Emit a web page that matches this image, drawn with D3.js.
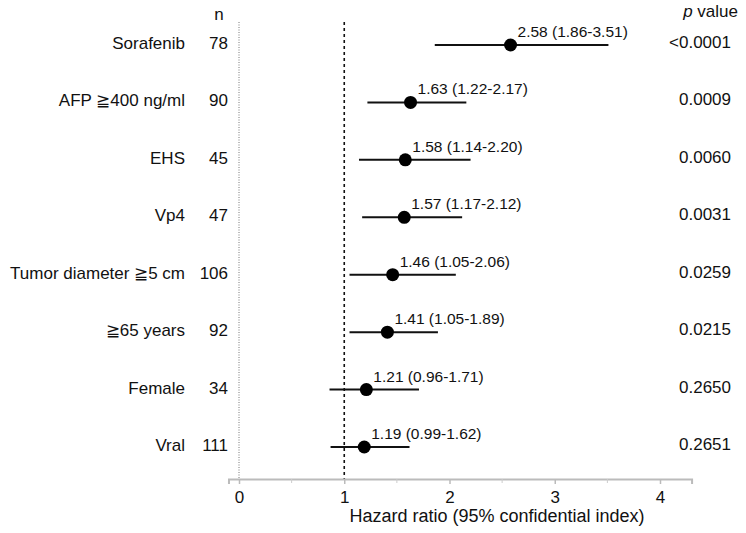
<!DOCTYPE html>
<html><head><meta charset="utf-8">
<script src="https://cdn.jsdelivr.net/npm/d3@7"></script>
<style>body{margin:0;background:#fff}svg{display:block;font-family:"Liberation Sans",Arial,sans-serif}</style>
</head><body>
<script>
const categories = ["Sorafenib","AFP \u2267400 ng/ml","EHS","Vp4","Tumor diameter \u22675 cm","\u226765 years","Female","Vral"];
const nValues = [78,90,45,47,106,92,34,111];
const hazardRatio = [2.58,1.63,1.58,1.57,1.46,1.41,1.21,1.19];
const ciLow = [1.86,1.22,1.14,1.17,1.05,1.05,0.86,0.87];   // as drawn
const ciHigh = [3.51,2.16,2.20,2.12,2.06,1.89,1.71,1.62];
const ciText = ["2.58 (1.86-3.51)","1.63 (1.22-2.17)","1.58 (1.14-2.20)","1.57 (1.17-2.12)","1.46 (1.05-2.06)","1.41 (1.05-1.89)","1.21 (0.96-1.71)","1.19 (0.99-1.62)"];
const pValues = ["<0.0001","0.0009","0.0060","0.0031","0.0259","0.0215","0.2650","0.2651"];
const majorTicks = [0,1,2,3,4];
const minorTicks = [0.5,1.5,2.5,3.5];

const W = 746, H = 533;
const svg = d3.select("body").append("svg").attr("width",W).attr("height",H);

const x = d3.scaleLinear().domain([0,4]).range([239,660]);
const xAxisScale = d3.scaleLinear().domain([-0.1,4.3]).range([x(-0.1),x(4.3)]);
const y = d3.scalePoint().domain(d3.range(categories.length)).range([45,447]);
const axisY = 479, topY = 22;

// reference lines
svg.append("line").attr("x1",x(0)).attr("x2",x(0)).attr("y1",topY).attr("y2",axisY)
  .attr("stroke","#777").attr("stroke-width",1).attr("stroke-dasharray","1,1.5");
svg.append("line").attr("x1",x(1)).attr("x2",x(1)).attr("y1",topY).attr("y2",axisY)
  .attr("stroke","#111").attr("stroke-width",1.6).attr("stroke-dasharray","3,3");

// axis
const gAxis = svg.append("g").attr("transform",`translate(0,${axisY})`);
gAxis.call(d3.axisBottom(xAxisScale).tickValues(majorTicks).tickFormat(d3.format("d")).tickSize(5).tickPadding(8));
gAxis.select(".domain").attr("stroke","#bbb").attr("stroke-width",2);
gAxis.selectAll(".tick line").attr("stroke","#bbb").attr("stroke-width",1.5);
gAxis.selectAll(".tick text").attr("font-size",17).attr("fill","#111")
  .attr("font-family","Liberation Sans, Arial, sans-serif").attr("dy",null).attr("y",24);
gAxis.selectAll(".minor").data(minorTicks).enter().append("line")
  .attr("x1",d=>x(d)).attr("x2",d=>x(d)).attr("y1",0).attr("y2",4)
  .attr("stroke","#ccc").attr("stroke-width",1);

svg.append("text").attr("x",497).attr("y",522).attr("text-anchor","middle")
  .attr("font-size",18).attr("fill","#111").text("Hazard ratio (95% confidential index)");

// headers
svg.append("text").attr("x",219).attr("y",20).attr("text-anchor","middle").attr("font-size",17).attr("fill","#111").text("n");
const ph = svg.append("text").attr("x",738).attr("y",17).attr("text-anchor","end").attr("font-size",17).attr("fill","#111");
ph.append("tspan").attr("font-style","italic").text("p");
ph.append("tspan").text(" value");

const rows = svg.append("g").selectAll("g").data(categories).enter().append("g");
rows.append("text").attr("x",185).attr("y",(d,i)=>y(i)+4).attr("text-anchor","end")
  .attr("font-size",17).attr("fill","#111").text(d=>d);
rows.append("text").attr("x",228).attr("y",(d,i)=>y(i)+4).attr("text-anchor","end")
  .attr("font-size",17).attr("fill","#111").text((d,i)=>nValues[i]);
rows.append("text").attr("x",731).attr("y",(d,i)=>y(i)+3).attr("text-anchor","end")
  .attr("font-size",17).attr("fill","#111").text((d,i)=>pValues[i]);
rows.append("line").attr("x1",(d,i)=>x(ciLow[i])).attr("x2",(d,i)=>x(ciHigh[i]))
  .attr("y1",(d,i)=>y(i)).attr("y2",(d,i)=>y(i)).attr("stroke","#111").attr("stroke-width",2);
rows.append("circle").attr("cx",(d,i)=>x(hazardRatio[i])).attr("cy",(d,i)=>y(i)).attr("r",6.5).attr("fill","#000");
rows.append("text").attr("x",(d,i)=>x(hazardRatio[i])+7).attr("y",(d,i)=>y(i)-8)
  .attr("font-size",15.5).attr("fill","#111").text((d,i)=>ciText[i]);
</script>
</body></html>
